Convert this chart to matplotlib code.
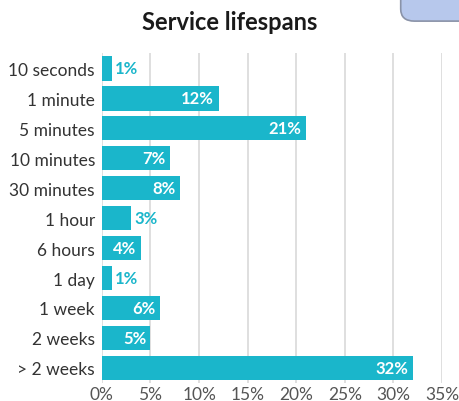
import matplotlib
matplotlib.use("Agg")
import matplotlib.pyplot as plt
from matplotlib.patches import FancyBboxPatch

categories = ["10 seconds", "1 minute", "5 minutes", "10 minutes", "30 minutes",
              "1 hour", "6 hours", "1 day", "1 week", "2 weeks", "> 2 weeks"]
values = [1, 12, 21, 7, 8, 3, 4, 1, 6, 5, 32]
xticks = [0, 5, 10, 15, 20, 25, 30, 35]

teal = "#1ab6cb"
plt.rcParams['font.family'] = ['Lato', 'DejaVu Sans']

fig = plt.figure(figsize=(4.59, 4.02), dpi=100)
ax = fig.add_axes([0.222, 0.045, 0.741, 0.82])

y = list(range(len(categories)))
ax.barh(y, values, height=0.82, color=teal, zorder=3)
ax.set_ylim(len(categories) - 0.5, -0.5)
ax.set_xlim(0, 35)
ax.set_xticks(xticks)
ax.set_xticklabels([f"{t}%" for t in xticks], fontsize=12.5, color="#555555")
ax.set_yticks(y)
ax.set_yticklabels(categories, fontsize=12.5, color="#333333")
ax.tick_params(length=0, pad=5)
ax.tick_params(axis='x', pad=2)
for s in ax.spines.values():
    s.set_visible(False)
ax.xaxis.grid(True, color="#dcdcdc", linewidth=1.3, zorder=0)

for yi, v in zip(y, values):
    if v >= 4:
        ax.text(v - 0.45, yi, f"{v}%", ha="right", va="center", color="white",
                fontsize=12, fontweight="bold", zorder=4)
    else:
        ax.text(v + 0.35, yi, f"{v}%", ha="left", va="center", color=teal,
                fontsize=12, fontweight="bold", zorder=4)

fig.text(0.5, 0.945, "Service lifespans", ha="center", va="center",
         fontsize=17, fontweight="bold", color="#1a1a1a")

box = FancyBboxPatch((0.873, 0.945), 0.2, 0.1, boxstyle="round,pad=0,rounding_size=0.03",
                     transform=fig.transFigure, facecolor="#b7c8ec", edgecolor="#8a93a8",
                     linewidth=1.2, figure=fig)
fig.patches.append(box)

fig.savefig("out.png", dpi=100)
